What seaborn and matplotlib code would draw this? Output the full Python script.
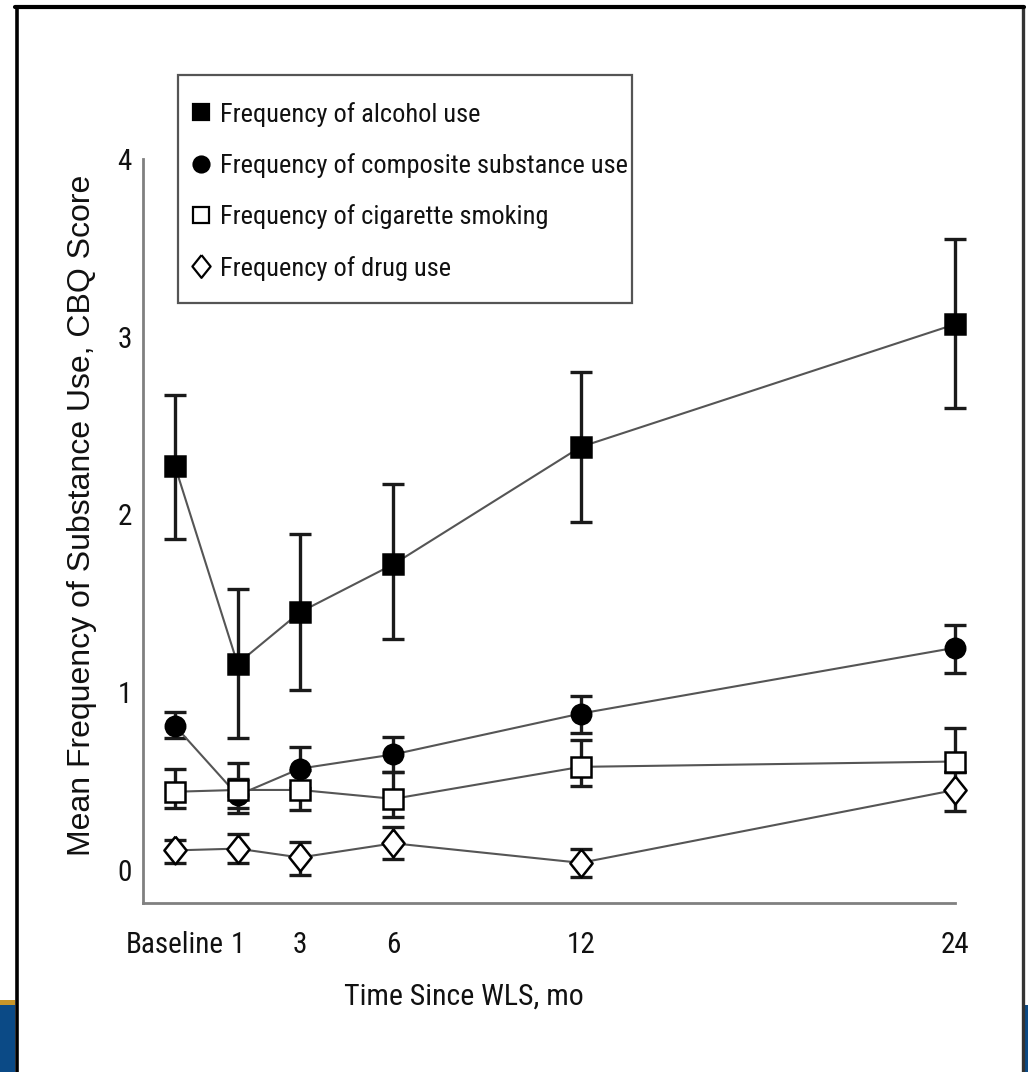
import numpy as np
import pandas as pd
import matplotlib
matplotlib.use("Agg")
import matplotlib.pyplot as plt
from matplotlib import font_manager
from matplotlib.lines import Line2D
from matplotlib.patches import Rectangle
import seaborn as sns

# ---------------- data ----------------
time_labels = ["Baseline", "1", "3", "6", "12", "24"]
time_points = [-1, 1, 3, 6, 12, 24]   # baseline drawn one month before month 0

series_names = ["Frequency of alcohol use",
                "Frequency of composite substance use",
                "Frequency of cigarette smoking",
                "Frequency of drug use"]

alcohol_mean = [2.27, 1.16, 1.45, 1.72, 2.38, 3.07]
alcohol_upper = [2.67, 1.58, 1.89, 2.17, 2.80, 3.55]
alcohol_lower = [1.86, 0.74, 1.01, 1.30, 1.96, 2.60]

composite_mean = [0.81, 0.42, 0.57, 0.65, 0.88, 1.25]
composite_upper = [0.89, 0.51, 0.69, 0.75, 0.98, 1.38]
composite_lower = [0.74, 0.32, 0.46, 0.55, 0.77, 1.11]

cigarette_mean = [0.44, 0.45, 0.45, 0.40, 0.58, 0.61]
cigarette_upper = [0.57, 0.60, 0.56, 0.55, 0.73, 0.80]
cigarette_lower = [0.35, 0.35, 0.34, 0.30, 0.47, 0.55]

drug_mean = [0.11, 0.12, 0.07, 0.15, 0.04, 0.45]
drug_upper = [0.17, 0.20, 0.16, 0.24, 0.12, 0.55]
drug_lower = [0.04, 0.04, -0.03, 0.06, -0.04, 0.33]

y_ticks = [0, 1, 2, 3, 4]

# ---------------- fonts ----------------
sns.set_theme(style="white")
entries = font_manager.fontManager.ttflist
avail = {f.name for f in entries}
narrow_family, narrow_stretch = None, "normal"
for name in ["Liberation Sans Narrow", "Roboto Condensed", "Arial Narrow",
             "Open Sans Condensed", "Noto Sans Condensed", "DejaVu Sans Condensed"]:
    if name in avail:
        narrow_family = name
        break
if narrow_family is None:
    for fam in ["Roboto", "Noto Sans", "Open Sans", "DejaVu Sans"]:
        hits = [f for f in entries if f.name == fam and str(f.stretch) in
                ("condensed", "semi-condensed", "extra-condensed", "ultra-condensed")]
        if hits:
            narrow_family, narrow_stretch = fam, str(hits[0].stretch)
            break
if narrow_family is None:
    narrow_family = "Liberation Sans"
plt.rcParams["font.family"] = [narrow_family, "DejaVu Sans"]
plt.rcParams["font.stretch"] = narrow_stretch

W, H = 1028, 1072
fig = plt.figure(figsize=(W / 100, H / 100), dpi=100)
fig.patch.set_facecolor("white")

ax_left, ax_right, ax_top, ax_bottom = 143, 955, 159, 903
ax = fig.add_axes([ax_left / W, 1 - ax_bottom / H, (ax_right - ax_left) / W, (ax_bottom - ax_top) / H])
ax.set_facecolor("white")

df = pd.DataFrame({
    "time": time_points * 4,
    "value": alcohol_mean + composite_mean + cigarette_mean + drug_mean,
    "upper": alcohol_upper + composite_upper + cigarette_upper + drug_upper,
    "lower": alcohol_lower + composite_lower + cigarette_lower + drug_lower,
    "series": sum([[s] * len(time_points) for s in series_names], []),
})

diamond = [(0, 1), (0.8, 0), (0, -1), (-0.8, 0), (0, 1)]
styles = {
    series_names[0]: dict(marker="s", ms=14, mfc="black"),
    series_names[1]: dict(marker="o", ms=14, mfc="black"),
    series_names[2]: dict(marker="s", ms=14, mfc="white"),
    series_names[3]: dict(marker=diamond, ms=20, mfc="white"),
}

for name in series_names:
    sub = df[df["series"] == name]
    st = styles[name]
    ax.errorbar(sub["time"], sub["value"],
                yerr=[sub["value"] - sub["lower"], sub["upper"] - sub["value"]],
                fmt="none", ecolor="#1a1a1a", elinewidth=2.4, capsize=8, capthick=2.4,
                zorder=2, clip_on=False)
    sns.lineplot(data=sub, x="time", y="value", ax=ax, color="#555555", linewidth=1.5,
                 marker=st["marker"], markersize=st["ms"], markerfacecolor=st["mfc"],
                 markeredgecolor="black", markeredgewidth=1.8, zorder=3, clip_on=False,
                 legend=False, errorbar=None)

ax.set_xlim(-2.03, 24)
ax.set_ylim(-0.186, 4)
ax.set_xticks(time_points)
ax.set_xticklabels(time_labels)
ax.set_yticks(y_ticks)
ax.set_yticklabels([str(t) for t in y_ticks])

for side in ["top", "right"]:
    ax.spines[side].set_visible(False)
for side in ["left", "bottom"]:
    ax.spines[side].set_color("#808080")
    ax.spines[side].set_linewidth(2)

ax.tick_params(axis="both", which="major", direction="out", width=1.6,
               color="#808080", labelsize=21, labelcolor="#111111")
ax.tick_params(axis="y", length=6, pad=2)
ax.tick_params(axis="x", length=10, pad=10)

ax.set_xlabel("Time Since WLS, mo", fontsize=21.5, color="#111111", va="top")
ax.xaxis.set_label_coords((464 - ax_left) / (ax_right - ax_left),
                          -(983 - ax_bottom) / (ax_bottom - ax_top))
ax.set_ylabel("Mean Frequency of Substance Use, CBQ Score", fontsize=23,
              color="#111111", family=["Liberation Sans", "DejaVu Sans"],
              fontstretch="normal")
ax.yaxis.set_label_coords(-(ax_left - 97) / (ax_right - ax_left),
                          (ax_bottom - 515) / (ax_bottom - ax_top))

# legend (frame drawn separately so its box matches the original)
ax.add_patch(Rectangle((178 / W, 1 - 303 / H), (632 - 178) / W, (303 - 75) / H,
                       transform=fig.transFigure, facecolor="white",
                       edgecolor="#555555", linewidth=1.6, zorder=4, clip_on=False))
handles = [Line2D([], [], linestyle="none", marker=styles[n]["marker"],
                  markersize=styles[n]["ms"] * 0.82, markerfacecolor=styles[n]["mfc"],
                  markeredgecolor="black", markeredgewidth=1.6) for n in series_names]
leg = ax.legend(handles, series_names, loc="upper left",
                bbox_to_anchor=(172 / W, 1 - 82 / H), bbox_transform=fig.transFigure,
                fontsize=19, frameon=False, borderpad=0.75, labelspacing=1.0,
                handlelength=0.7, handletextpad=0.35, borderaxespad=0)
leg.set_zorder(5)
for t in leg.get_texts():
    t.set_color("#111111")

# outer frame of the picture
fig.patches.append(Rectangle((0, 0), 15 / W, 67 / H, transform=fig.transFigure,
                             facecolor="#0b4a86", edgecolor="none", zorder=0))
fig.patches.append(Rectangle((0, 67 / H), 15 / W, 5 / H, transform=fig.transFigure,
                             facecolor="#c8962a", edgecolor="none", zorder=0))
fig.patches.append(Rectangle((1024 / W, 0), 4 / W, 67 / H, transform=fig.transFigure,
                             facecolor="#0b4a86", edgecolor="none", zorder=0))
fig.add_artist(Line2D([16.5 / W, 16.5 / W], [0, 1 - 6.5 / H], transform=fig.transFigure,
                      color="black", linewidth=2.6))
fig.add_artist(Line2D([1022.5 / W, 1022.5 / W], [0, 1 - 6.5 / H], transform=fig.transFigure,
                      color="#333333", linewidth=2.4))
fig.add_artist(Line2D([15 / W, 1024 / W], [1 - 6.5 / H, 1 - 6.5 / H], transform=fig.transFigure,
                      color="black", linewidth=3))

fig.savefig("out.png", dpi=100, facecolor="white")
